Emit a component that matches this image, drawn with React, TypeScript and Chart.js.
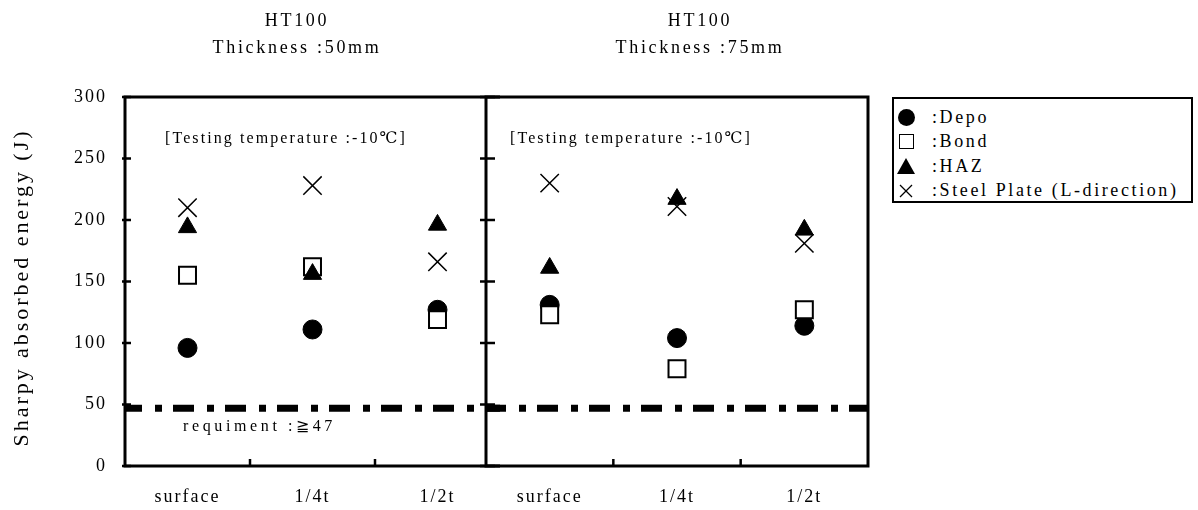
import React, { useEffect, useRef } from "react";
import { Chart, registerables } from "chart.js";

Chart.register(...registerables);

// ---------- data ----------
const positions = ["surface", "1/4t", "1/2t"];
const yMin = 0;
const yMax = 300;
const yStep = 50;

const title50 = ["HT100", "Thickness :50mm"];
const title75 = ["HT100", "Thickness :75mm"];

const depo50 = [96, 111, 127];
const bond50 = [155, 162, 119];
const haz50 = [194, 156, 196];
const steel50 = [210, 228, 166];

const depo75 = [131, 104, 114];
const bond75 = [123, 79, 127];
const haz75 = [161, 217, 192];
const steel75 = [230, 211, 181];

const requirement = 47;
const requirementLabel = "requiment :≧47";
const requirementLabelValue = 32;
const testingLabel = "[Testing temperature :-10℃]";
const testingLabelValue = 266;
const yTitle = "Sharpy absorbed energy (J)";
const legendLabels = [":Depo", ":Bond", ":HAZ", ":Steel Plate (L-direction)"];

// ---------- layout ----------
const H = 510;
const LEFT_W = 500;
const Y_AXIS_W = 125;
const RIGHT_LEFT = 470;
const RIGHT_PAD_L = 16;
const RIGHT_W = 402;
const PLOT_TOP = 97;
const X_AXIS_H = 44;
const FONT = '"Liberation Serif", "DejaVu Serif", serif';
const DASH = [21, 13, 7, 11];
const DASH_PHASE = 4;

function makeDatasets(depo: number[], bond: number[], haz: number[], steel: number[]) {
  const base = [
    { label: "Depo", data: depo, style: "circle", r: 9.5, bg: "#000", bw: 1, order: 4 },
    { label: "Bond", data: bond, style: "rect", r: 12, bg: "#fff", bw: 2, order: 3 },
    { label: "HAZ", data: haz, style: "triangle", r: 10.5, bg: "#000", bw: 1, order: 2 },
    { label: "Steel", data: steel, style: "crossRot", r: 13, bg: "#000", bw: 1.5, order: 1 },
  ];
  return base.map((d) => ({
    label: d.label,
    data: d.data,
    order: d.order,
    showLine: false,
    pointStyle: d.style,
    pointRadius: d.r,
    pointHoverRadius: d.r,
    pointBackgroundColor: d.bg,
    pointBorderColor: "#000",
    pointBorderWidth: d.bw,
    pointHoverBorderWidth: d.bw,
    backgroundColor: d.bg,
    borderColor: "#000",
  }));
}

type PanelOpts = {
  isLeft: boolean;
  dashOffset: number;
  textDx: number;
};

// draw text stretched to a target width by letter spacing
function spacedText(ctx: any, text: string, x: number, y: number, targetW: number) {
  ctx.letterSpacing = "0px";
  const w = ctx.measureText(text).width;
  const n = Array.from(text).length;
  const sp = Math.max(0, (targetW - w) / n);
  ctx.letterSpacing = sp.toFixed(2) + "px";
  ctx.fillText(text, x, y);
}

function panelPlugin(o: PanelOpts) {
  return {
    id: "panelDeco",
    beforeDraw(chart: any) {
      (chart.ctx as any).letterSpacing = "2px";
    },
    afterDraw(chart: any) {
      const { ctx, chartArea: a, scales } = chart;
      const ys = scales.y;
      const xs = scales.x;
      ctx.save();
      ctx.strokeStyle = "#000";
      ctx.fillStyle = "#000";

      // requirement dash-dot line
      const yr = ys.getPixelForValue(requirement);
      ctx.save();
      ctx.lineWidth = 7;
      ctx.lineCap = "butt";
      ctx.setLineDash(DASH);
      ctx.lineDashOffset = o.dashOffset;
      ctx.beginPath();
      ctx.moveTo(a.left, yr);
      ctx.lineTo(a.right, yr);
      ctx.stroke();
      ctx.restore();

      // frame
      ctx.lineWidth = 3;
      ctx.lineCap = "square";
      ctx.beginPath();
      if (o.isLeft) {
        ctx.moveTo(a.right, a.top);
        ctx.lineTo(a.left, a.top);
        ctx.lineTo(a.left, a.bottom);
        ctx.lineTo(a.right, a.bottom);
      } else {
        ctx.rect(a.left, a.top, a.right - a.left, a.bottom - a.top);
      }
      ctx.stroke();

      // y tick marks
      ctx.lineWidth = 2.5;
      ctx.lineCap = "butt";
      const out = o.isLeft ? 3 : 6;
      const inn = o.isLeft ? 6 : 9;
      ys.ticks.forEach((t: any) => {
        const py = ys.getPixelForValue(t.value);
        ctx.beginPath();
        ctx.moveTo(a.left - out, py);
        ctx.lineTo(a.left + inn, py);
        ctx.stroke();
      });

      // x tick marks between categories
      for (let i = 0; i < positions.length - 1; i++) {
        const px = (xs.getPixelForValue(i) + xs.getPixelForValue(i + 1)) / 2;
        ctx.beginPath();
        ctx.moveTo(px, a.bottom);
        ctx.lineTo(px, a.bottom - 7);
        ctx.stroke();
      }

      // annotations
      ctx.font = "16px " + FONT;
      ctx.textBaseline = "middle";
      ctx.textAlign = "left";
      spacedText(ctx, testingLabel, a.left + o.textDx, ys.getPixelForValue(testingLabelValue), 242);
      if (o.isLeft) {
        spacedText(ctx, requirementLabel, a.left + 58, ys.getPixelForValue(requirementLabelValue), 153);

        // y axis title
        ctx.save();
        ctx.font = "22px " + FONT;
        ctx.textAlign = "center";
        ctx.translate(a.left - 103, (a.top + a.bottom) / 2 + 6);
        ctx.rotate(-Math.PI / 2);
        spacedText(ctx, yTitle, 0, 0, 318);
        ctx.restore();
      }
      ctx.restore();
    },
  };
}

function makeConfig(datasets: any[], isLeft: boolean, o: PanelOpts): any {
  return {
    type: "line",
    data: { labels: positions, datasets },
    options: {
      responsive: false,
      animation: false,
      devicePixelRatio: 1,
      events: [],
      layout: {
        autoPadding: false,
        padding: isLeft
          ? { top: PLOT_TOP, left: 0, right: 0, bottom: 0 }
          : { top: PLOT_TOP, left: RIGHT_PAD_L, right: 4, bottom: 0 },
      },
      plugins: { legend: { display: false }, tooltip: { enabled: false }, title: { display: false } },
      scales: {
        x: {
          type: "category",
          offset: true,
          grid: { display: false },
          border: { display: false },
          ticks: {
            color: "#000",
            font: { family: FONT, size: 18 },
            padding: 12,
            maxRotation: 0,
            autoSkip: false,
          },
          afterFit: (s: any) => {
            s.height = X_AXIS_H;
            s.paddingLeft = 0;
            s.paddingRight = 0;
          },
        },
        y: {
          min: yMin,
          max: yMax,
          grid: { display: false },
          border: { display: false },
          ticks: {
            display: isLeft,
            stepSize: yStep,
            color: "#000",
            font: { family: FONT, size: 18 },
            padding: 10,
          },
          title: { display: false },
          afterFit: (s: any) => {
            s.width = isLeft ? Y_AXIS_W : 0;
            s.paddingTop = 0;
            s.paddingBottom = 0;
          },
        },
      },
    },
    plugins: [panelPlugin(o)],
  };
}

function TitleBlock({ lines, cx }: { lines: string[]; cx: number }) {
  return (
    <div
      style={{
        position: "absolute",
        left: cx - 150,
        top: 7,
        width: 300,
        textAlign: "center",
        fontFamily: FONT,
        fontSize: 18,
        lineHeight: "27px",
        letterSpacing: "2.7px",
        color: "#000",
      }}
    >
      {lines.map((l, i) => (
        <div key={i}>{l}</div>
      ))}
    </div>
  );
}

function LegendMarker({ kind }: { kind: number }) {
  if (kind === 0)
    return <div style={{ width: 17, height: 17, borderRadius: "50%", background: "#000" }} />;
  if (kind === 1)
    return <div style={{ width: 13, height: 13, border: "1.5px solid #000", background: "#fff" }} />;
  if (kind === 2)
    return (
      <div
        style={{
          width: 0,
          height: 0,
          borderLeft: "9px solid transparent",
          borderRight: "9px solid transparent",
          borderBottom: "16px solid #000",
        }}
      />
    );
  return (
    <svg width="16" height="16" viewBox="0 0 16 16">
      <line x1="2" y1="2" x2="14" y2="14" stroke="#000" strokeWidth="1.3" />
      <line x1="14" y1="2" x2="2" y2="14" stroke="#000" strokeWidth="1.3" />
    </svg>
  );
}

export default function App() {
  const leftRef = useRef<HTMLCanvasElement>(null);
  const rightRef = useRef<HTMLCanvasElement>(null);

  useEffect(() => {
    if (!leftRef.current || !rightRef.current) return;
    const leftStart = Y_AXIS_W;
    const rightStart = RIGHT_LEFT + RIGHT_PAD_L;
    const left = new Chart(
      leftRef.current,
      makeConfig(makeDatasets(depo50, bond50, haz50, steel50), true, {
        isLeft: true,
        dashOffset: DASH_PHASE,
        textDx: 40,
      })
    );
    const right = new Chart(
      rightRef.current,
      makeConfig(makeDatasets(depo75, bond75, haz75, steel75), false, {
        isLeft: false,
        dashOffset: DASH_PHASE + (rightStart - leftStart),
        textDx: 24,
      })
    );
    return () => {
      left.destroy();
      right.destroy();
    };
  }, []);

  return (
    <div
      style={{
        position: "absolute",
        left: 0,
        top: 0,
        width: 1198,
        height: H,
        background: "#fff",
        overflow: "hidden",
      }}
    >
      <canvas
        ref={leftRef}
        width={LEFT_W}
        height={H}
        style={{ position: "absolute", left: 0, top: 0, width: LEFT_W, height: H }}
      />
      <canvas
        ref={rightRef}
        width={RIGHT_W}
        height={H}
        style={{ position: "absolute", left: RIGHT_LEFT, top: 0, width: RIGHT_W, height: H }}
      />
      <TitleBlock lines={title50} cx={297} />
      <TitleBlock lines={title75} cx={700} />
      <div
        style={{
          position: "absolute",
          left: 892,
          top: 97,
          width: 301,
          height: 106,
          boxSizing: "border-box",
          border: "2px solid #000",
          paddingTop: 6,
          paddingLeft: 2,
          fontFamily: FONT,
          fontSize: 18,
          letterSpacing: "2.6px",
          color: "#000",
        }}
      >
        {legendLabels.map((l, i) => (
          <div key={i} style={{ display: "flex", alignItems: "center", height: 24.5 }}>
            <div style={{ width: 20, display: "flex", justifyContent: "center" }}>
              <LegendMarker kind={i} />
            </div>
            <span style={{ marginLeft: 16, whiteSpace: "nowrap" }}>{l}</span>
          </div>
        ))}
      </div>
    </div>
  );
}
